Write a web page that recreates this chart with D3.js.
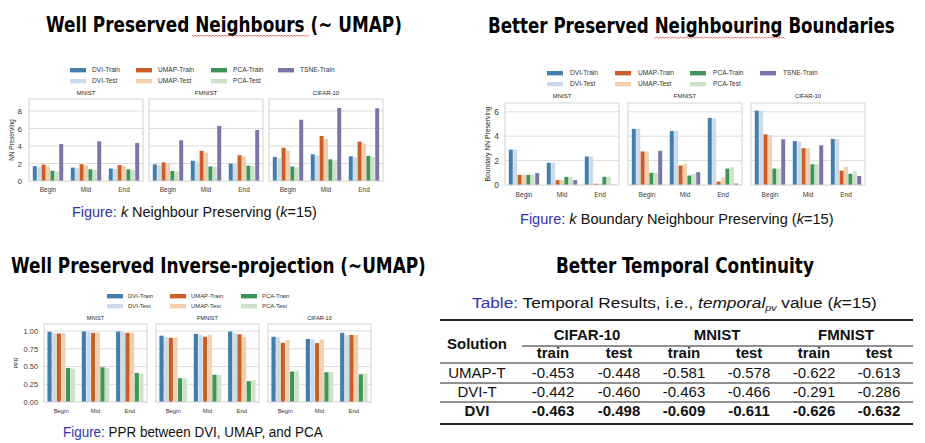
<!DOCTYPE html>
<html><head><meta charset="utf-8">
<script src="https://cdn.jsdelivr.net/npm/d3@7"></script>
<style>body{margin:0;background:#fff} svg{display:block}</style>
</head><body>
<svg id="c" width="925" height="443"></svg>
<script>
// ---------- data ----------
const stages = ["Begin", "Mid", "End"];
const datasets = ["MNIST", "FMNIST", "CIFAR-10"];
const seriesNN = ["DVI-Train", "DVI-Test", "UMAP-Train", "UMAP-Test", "PCA-Train", "PCA-Test", "TSNE-Train"];
const seriesPPR = ["DVI-Train", "DVI-Test", "UMAP-Train", "UMAP-Test", "PCA-Train", "PCA-Test"];

// k Neighbour Preserving (rows: Begin, Mid, End; cols: series)
const nnMnist  = [[1.70, 1.60, 1.88, 1.75, 1.16, 1.10, 4.22], [1.53, 1.45, 1.92, 1.80, 1.34, 1.28, 4.53], [1.43, 1.36, 1.82, 1.72, 1.34, 1.27, 4.35]];
const nnFmnist = [[1.90, 1.80, 2.12, 2.00, 1.15, 1.10, 4.65], [2.32, 2.22, 3.45, 3.25, 1.66, 1.60, 6.30], [2.00, 1.92, 2.95, 2.82, 1.76, 1.70, 5.82]];
const nnCifar  = [[2.75, 2.60, 3.80, 3.52, 1.66, 1.57, 7.00], [3.05, 2.92, 5.15, 4.80, 2.47, 2.36, 8.35], [2.82, 2.72, 4.50, 4.27, 2.87, 2.74, 8.30]];
const nnTicks = [0, 2, 4, 6, 8];

// k Boundary Neighbour Preserving
const bnMnist  = [[2.90, 2.90, 0.83, 0.83, 0.83, 0.83, 0.98], [1.82, 1.82, 0.40, 0.42, 0.67, 0.67, 0.40], [2.34, 2.34, 0.10, 0.12, 0.67, 0.67, 0.02]];
const bnFmnist = [[4.60, 4.60, 2.75, 2.75, 1.00, 1.00, 2.80], [4.43, 4.43, 1.60, 1.75, 0.78, 0.90, 1.05], [5.50, 5.47, 0.28, 0.62, 1.35, 1.45, 0.12]];
const bnCifar  = [[6.10, 6.08, 4.15, 4.10, 1.35, 1.35, 3.75], [3.60, 3.58, 3.02, 3.00, 1.70, 1.70, 3.25], [3.78, 3.78, 1.18, 1.48, 0.92, 1.13, 0.74]];
const bnTicks = [0, 2, 4, 6];

// PPR
const pprMnist  = [[0.990, 0.975, 0.965, 0.970, 0.480, 0.470], [0.995, 0.990, 0.975, 0.980, 0.490, 0.480], [0.995, 0.990, 0.975, 0.980, 0.410, 0.400]];
const pprFmnist = [[0.935, 0.915, 0.905, 0.910, 0.335, 0.335], [0.960, 0.945, 0.920, 0.950, 0.385, 0.380], [0.995, 0.975, 0.955, 0.920, 0.295, 0.305]];
const pprCifar  = [[0.920, 0.910, 0.835, 0.875, 0.430, 0.440], [0.890, 0.885, 0.830, 0.880, 0.420, 0.425], [0.975, 0.940, 0.945, 0.945, 0.390, 0.400]];
const pprTicks = [0, 0.25, 0.5, 0.75, 1.0];

// Temporal table
const tableGroups = ["CIFAR-10", "MNIST", "FMNIST"];
const tableSub = ["train", "test"];
const tableRows = ["UMAP-T", "DVI-T", "DVI"];
const tUmapT = ["-0.453", "-0.448", "-0.581", "-0.578", "-0.622", "-0.613"];
const tDviT  = ["-0.442", "-0.460", "-0.463", "-0.466", "-0.291", "-0.286"];
const tDvi   = ["-0.463", "-0.498", "-0.609", "-0.611", "-0.626", "-0.632"];

// ---------- styles ----------
const basePalette = ["#3182bd", "#c6dbef", "#e6550d", "#fdd0a2", "#31a354", "#c7e9c0", "#756bb1"];
const palette = basePalette.map(c => { const h = d3.hsl(c); h.s *= 0.75; return h.formatHex(); });
const SANS = "'Liberation Sans', Arial, sans-serif";
const BLUE = "#3333b3";

const svg = d3.select("#c");

function barChart(cfg) {
  const y = d3.scaleLinear().domain(cfg.domain).range([cfg.bottom, cfg.top]);
  const color = d3.scaleOrdinal().domain(cfg.series).range(palette);
  cfg.data.forEach((vals, pi) => {
    const g = svg.append("g").attr("transform", `translate(${cfg.px[pi]},0)`);
    const x0 = d3.scaleBand().domain(stages).range([0, cfg.pw]);
    const bw = x0.bandwidth();
    const x1 = d3.scaleBand().domain(cfg.series).range([bw * 0.1, bw * 0.9]).paddingInner(0.1);
    g.selectAll("line.grid").data(cfg.ticks.filter(t => t > 0)).join("line")
      .attr("x1", 0).attr("x2", cfg.pw).attr("y1", d => y(d)).attr("y2", d => y(d))
      .attr("stroke", "#dcdcdc").attr("stroke-width", 1);
    const rows = stages.map((s, si) => cfg.series.map((k, ki) => ({ stage: s, key: k, v: vals[si][ki] })));
    g.selectAll("g.grp").data(rows).join("g")
      .attr("transform", (d, i) => `translate(${x0(stages[i])},0)`)
      .selectAll("rect").data(d => d).join("rect")
      .attr("x", d => x1(d.key)).attr("width", x1.bandwidth())
      .attr("y", d => y(d.v)).attr("height", d => y(0) - y(d.v))
      .attr("fill", d => color(d.key));
    g.append("rect").attr("x", 0).attr("y", cfg.top).attr("width", cfg.pw).attr("height", cfg.bottom - cfg.top)
      .attr("fill", "none").attr("stroke", "#d2d2d2").attr("stroke-width", 1);
    const xa = g.append("g").attr("transform", `translate(0,${cfg.bottom})`).call(d3.axisBottom(x0).tickSize(0));
    xa.select(".domain").remove();
    xa.selectAll("text").attr("y", cfg.xLabelY - cfg.bottom).attr("dy", "0.35em")
      .attr("font-size", cfg.xfs).attr("font-family", SANS).attr("fill", "#3a3a3a");
    g.append("text").attr("x", cfg.pw / 2).attr("y", cfg.titleY).attr("dy", "0.35em")
      .attr("text-anchor", "middle").attr("font-size", cfg.tfs).attr("font-family", SANS).attr("fill", "#262626")
      .text(datasets[pi]);
    if (pi === 0) {
      const ya = g.append("g").call(d3.axisLeft(y).tickValues(cfg.ticks).tickSize(0).tickPadding(cfg.tickPad).tickFormat(cfg.fmt));
      ya.select(".domain").remove();
      ya.selectAll("text").attr("font-size", cfg.yfs).attr("font-family", SANS).attr("fill", "#3a3a3a");
    }
  });
  svg.append("text").attr("transform", `translate(${cfg.yLabelX},${(cfg.top + cfg.bottom) / 2}) rotate(-90)`)
    .attr("text-anchor", "middle").attr("dy", "0.35em").attr("font-size", cfg.ylfs).attr("font-family", SANS)
    .attr("fill", "#262626").text(cfg.yLabel);
  cfg.series.forEach((k, i) => {
    const col = Math.floor(i / 2), row = i % 2;
    const lx = cfg.legX[col], ly = cfg.legY[row];
    svg.append("rect").attr("x", lx).attr("y", ly - 2).attr("width", 16).attr("height", 4.4).attr("fill", color(k));
    svg.append("text").attr("x", lx + cfg.legTextOff).attr("y", ly).attr("dy", "0.35em")
      .attr("font-size", cfg.lfs).attr("font-family", SANS).attr("fill", "#333").text(k);
  });
}

barChart({
  series: seriesNN, data: [nnMnist, nnFmnist, nnCifar], domain: [0, 9.37], ticks: nnTicks, fmt: d3.format("d"),
  px: [29, 149, 269], pw: 114, top: 99, bottom: 181, titleY: 93, xLabelY: 190, tickPad: 7,
  yLabel: "NN Preserving", yLabelX: 12, legX: [70, 136, 211, 278], legY: [70, 81], legTextOff: 22,
  xfs: 6.4, yfs: 8, tfs: 6, ylfs: 6.4, lfs: 6.6
});
barChart({
  series: seriesNN, data: [bnMnist, bnFmnist, bnCifar], domain: [0, 6.72], ticks: bnTicks, fmt: d3.format("d"),
  px: [505, 628, 751], pw: 114, top: 103, bottom: 185, titleY: 96, xLabelY: 195, tickPad: 6,
  yLabel: "Boundary NN Preserving", yLabelX: 488, legX: [547, 615, 690, 760], legY: [73, 84], legTextOff: 23,
  xfs: 6.6, yfs: 8.4, tfs: 6, ylfs: 6.8, lfs: 6.6
});
barChart({
  series: seriesPPR, data: [pprMnist, pprFmnist, pprCifar], domain: [0, 1.1], ticks: pprTicks, fmt: d3.format(".2f"),
  px: [44, 156, 268], pw: 103, top: 324, bottom: 402, titleY: 318, xLabelY: 411, tickPad: 6,
  yLabel: "PPR", yLabelX: 16, legX: [107, 170, 241], legY: [296, 306], legTextOff: 21,
  xfs: 5.9, yfs: 7.4, tfs: 5.6, ylfs: 5.4, lfs: 5.9
});

// fit a text horizontally into [x, x2] by scaling its group along x (keeps real bbox correct)
function fitText(sel, x, x2, yc) {
  const node = sel.node();
  const w = node.getComputedTextLength();
  const sx = (x2 - x) / w;
  sel.attr("x", 0).attr("y", 0).attr("dy", "0.35em")
    .attr("transform", `translate(${x},${yc}) scale(${sx},1)`);
}

// ---------- slide titles ----------
const TITLE = "'Liberation Sans Narrow', 'DejaVu Sans Condensed', sans-serif";
function title(x, x2, yc, txt) {
  const t = svg.append("text").attr("font-family", TITLE).attr("font-weight", "bold").attr("font-size", 22)
    .attr("fill", "#000").text(txt);
  fitText(t, x, x2, yc);
}
title(46, 402, 24, "Well Preserved Neighbours (~ UMAP)");
title(488, 895, 25, "Better Preserved Neighbouring Boundaries");
title(11, 426, 265, "Well Preserved Inverse-projection (~UMAP)");
title(556, 814, 265, "Better Temporal Continuity");

function squiggle(x1, x2, yy) {
  let d = `M${x1},${yy}`;
  for (let x = x1, i = 0; x < x2; x += 1.5, i++) d += `L${x + 1.5},${yy + (i % 2 ? 0 : 1.3)}`;
  svg.append("path").attr("d", d).attr("fill", "none").attr("stroke", "#e04040").attr("stroke-width", 0.7);
}
squiggle(192, 308, 35);
squiggle(654, 784, 37);

// ---------- captions ----------
function caption(x, x2, yc, parts) {
  const t = svg.append("text").attr("font-family", SANS).attr("font-size", 14.5).attr("fill", "#111");
  parts.forEach(p => {
    const s = t.append("tspan").text(p.t);
    if (p.c) s.attr("fill", p.c);
    if (p.i) s.attr("font-style", "italic");
    if (p.sub) s.attr("font-size", 9).attr("dy", 3);
    if (p.up) s.attr("dy", -3);
  });
  fitText(t, x, x2, yc);
}
caption(72, 317, 212, [{ t: "Figure:", c: BLUE }, { t: " " }, { t: "k", i: 1 }, { t: " Neighbour Preserving (" }, { t: "k", i: 1 }, { t: "=15)" }]);
caption(520, 834, 219, [{ t: "Figure:", c: BLUE }, { t: " " }, { t: "k", i: 1 }, { t: " Boundary Neighbour Preserving (" }, { t: "k", i: 1 }, { t: "=15)" }]);
caption(63, 323, 432, [{ t: "Figure:", c: BLUE }, { t: " PPR between DVI, UMAP, and PCA" }]);
caption(472, 877, 303, [{ t: "Table:", c: BLUE }, { t: " Temporal Results, i.e., " }, { t: "temporal", i: 1 }, { t: "pv", i: 1, sub: 1 }, { t: " value (", up: 1 }, { t: "k", i: 1 }, { t: "=15)" }]);

// ---------- table ----------
const tL = 440, tR = 913;
const colX = [553, 619, 684, 749, 814, 879];
const groupX = [587, 717, 846];
const rowY = [373, 392, 411];
const tbl = svg.append("g").attr("font-family", SANS).attr("font-size", 15).attr("fill", "#111");
function hline(y, x1, x2, w) { tbl.append("line").attr("x1", x1).attr("x2", x2).attr("y1", y).attr("y2", y).attr("stroke", "#222").attr("stroke-width", w); }
hline(320, tL, tR, 2);
hline(346, 522, tR, 1);
hline(363, tL, tR, 1);
hline(383, tL, tR, 1);
hline(402, tL, tR, 1);
hline(424, tL, tR, 2);
function cell(x, y, txt, bold) {
  tbl.append("text").attr("x", x).attr("y", y).attr("dy", "0.35em").attr("text-anchor", "middle")
    .attr("font-weight", bold ? "bold" : "normal").text(txt);
}
cell(477, 344, "Solution", true);
tableGroups.forEach((g, i) => cell(groupX[i], 335, g, true));
colX.forEach((x, i) => cell(x, 353, tableSub[i % 2], true));
[tUmapT, tDviT, tDvi].forEach((vals, r) => {
  cell(477, rowY[r], tableRows[r], r === 2);
  vals.forEach((v, c) => cell(colX[c], rowY[r], v, r === 2));
});
</script>
</body></html>
